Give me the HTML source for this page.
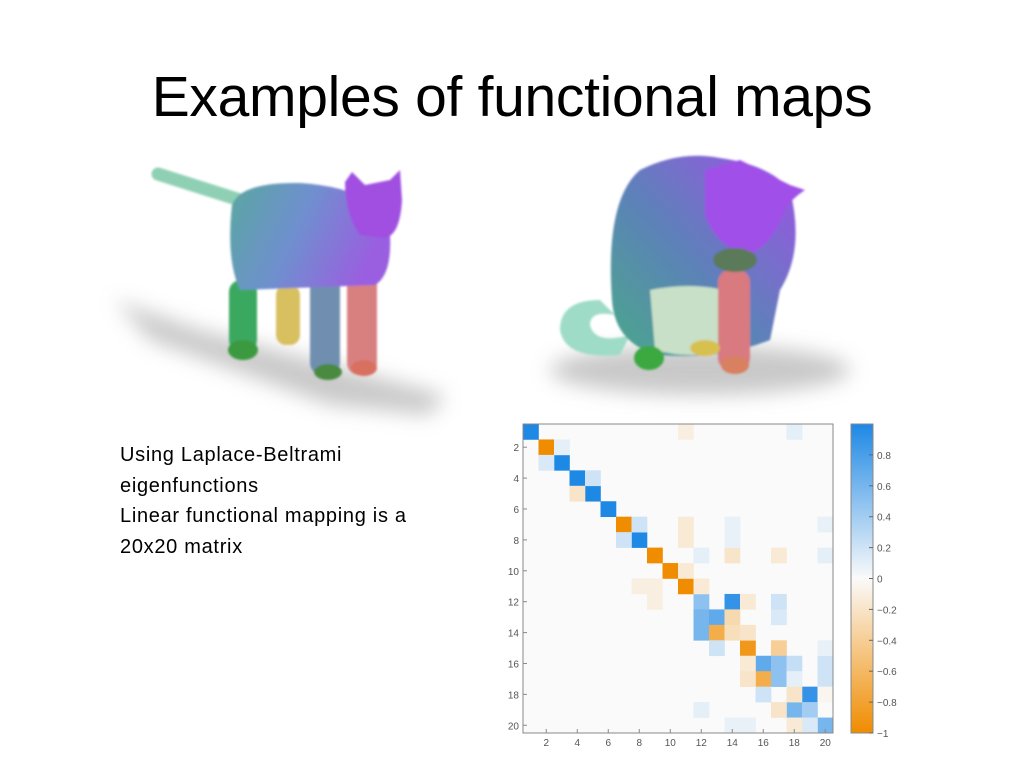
<!DOCTYPE html>
<html><head><meta charset="utf-8"><style>
html,body{margin:0;padding:0;background:#fff;width:1024px;height:768px;overflow:hidden;position:relative;font-family:"Liberation Sans",sans-serif}
.title{position:absolute;left:0;width:1024px;top:64px;text-align:center;font-size:57px;color:#000;letter-spacing:-0.3px}
.body{position:absolute;left:120px;top:440px;font-size:20px;letter-spacing:0.7px;line-height:30.5px;color:#000}
svg{position:absolute;left:0;top:0}
</style></head><body>
<div class="title">Examples of functional maps</div>
<div class="body">Using Laplace-Beltrami<br>eigenfunctions<br>Linear functional mapping is a<br>20x20 matrix</div>
<svg width="1024" height="768" xmlns="http://www.w3.org/2000/svg">
<defs>
<filter id="bl" x="-50%" y="-50%" width="200%" height="200%"><feGaussianBlur stdDeviation="10"/></filter>
<filter id="bs" x="-20%" y="-20%" width="140%" height="140%"><feGaussianBlur stdDeviation="1"/></filter>
<linearGradient id="lb" x1="0" y1="0" x2="1" y2="0.3"><stop offset="0" stop-color="#5aa7a0"/><stop offset="0.5" stop-color="#6f8fcf"/><stop offset="1" stop-color="#9a5fe0"/></linearGradient>
<linearGradient id="rb" x1="0" y1="1" x2="1" y2="0"><stop offset="0" stop-color="#4aa88a"/><stop offset="0.45" stop-color="#5c82b8"/><stop offset="1" stop-color="#a050e8"/></linearGradient>
<linearGradient id="cb" x1="0" y1="1" x2="0" y2="0"><stop offset="0" stop-color="#f08c00"/><stop offset="0.5" stop-color="#fafafa"/><stop offset="1" stop-color="#1e88e5"/></linearGradient>
</defs>
<polygon points="115,300 200,330 445,395 430,415 330,405 150,340" fill="#bbb" filter="url(#bl)" opacity="0.8"/>
<g filter="url(#bs)">
<line x1="158" y1="174" x2="240" y2="200" stroke="#8fd0b5" stroke-width="13" stroke-linecap="round"/>
<rect x="229" y="280" width="28" height="72" rx="12" fill="#3aa860"/>
<rect x="276" y="285" width="24" height="60" rx="10" fill="#d8c060"/>
<rect x="310" y="275" width="30" height="100" rx="12" fill="#6f8fb0"/>
<rect x="347" y="270" width="30" height="105" rx="12" fill="#d88080"/>
<ellipse cx="243" cy="350" rx="15" ry="10" fill="#3a9a40"/>
<ellipse cx="328" cy="372" rx="14" ry="8" fill="#4a8a40"/>
<ellipse cx="364" cy="368" rx="13" ry="8" fill="#d87060"/>
<path d="M232,205 Q240,182 300,183 Q345,186 365,200 L390,235 Q392,275 375,285 L240,290 Q226,260 232,205Z" fill="url(#lb)"/>
<path d="M345,182 L352,172 L365,185 L390,180 L400,170 L402,200 Q400,235 385,238 L360,235 Q345,215 345,182Z" fill="#a050e0"/>
</g>
<ellipse cx="700" cy="370" rx="150" ry="25" fill="#bbb" filter="url(#bl)" opacity="0.8"/>
<g filter="url(#bs)">
<path d="M600,300 Q560,300 560,330 Q565,360 620,355 L630,335 Q595,345 590,325 Q590,310 615,315Z" fill="#9fdcc8"/>
<path d="M612,300 Q605,200 640,170 Q680,150 720,158 Q770,165 790,190 Q805,250 780,290 L770,340 Q720,360 660,355 Q615,345 612,300Z" fill="url(#rb)"/>
<path d="M650,290 Q700,280 740,295 L735,350 Q690,360 655,350Z" fill="#c8e0c8"/>
<rect x="718" y="270" width="32" height="100" rx="12" fill="#d87a80"/>
<ellipse cx="649" cy="358" rx="15" ry="12" fill="#3aa840"/>
<ellipse cx="705" cy="348" rx="15" ry="8" fill="#d8c050"/>
<ellipse cx="735" cy="365" rx="14" ry="9" fill="#d88060"/>
<path d="M705,170 L740,160 L790,185 L805,190 Q790,200 785,210 Q770,250 745,255 Q715,245 705,215Z" fill="#a050e8"/>
<ellipse cx="735" cy="260" rx="22" ry="12" fill="#5a7a5a"/>
</g>
<rect x="523" y="424" width="310" height="309" fill="#fafafa" stroke="#888" stroke-width="1"/>
<g id="cells"></g>
<rect x="523" y="424" width="310" height="309" fill="none" stroke="#888" stroke-width="1"/>
<g font-size="10" fill="#555" text-anchor="end" id="ylab"></g>
<g font-size="10" fill="#555" text-anchor="middle" id="xlab"></g>
<rect x="851" y="424" width="22" height="309" fill="url(#cb)" stroke="#888" stroke-width="1"/>
<g font-size="10" fill="#555" id="cbl"></g>
</svg>
<script>
var ns="http://www.w3.org/2000/svg";
function el(t,a,p,txt){var e=document.createElementNS(ns,t);for(var k in a)e.setAttribute(k,a[k]);if(txt!=null)e.textContent=txt;document.getElementById(p).appendChild(e);}
var v=[[1,1,1],[2,2,-1],[3,3,1],[4,4,1],[5,5,1],[6,6,1],[7,7,-1],[8,8,1],[9,9,-1],[10,10,-1],[11,11,-1],
[12,12,.5],[12,14,.9],[13,12,.6],[13,13,.7],[14,12,.6],[14,13,-.7],[15,15,-.9],[15,17,-.4],[16,16,.7],[16,17,.5],
[17,16,-.7],[17,17,.5],[18,19,.9],[19,18,.6],[19,19,.4],[20,20,.6],
[2,3,.1],[3,2,.15],[4,5,.2],[5,4,-.2],[7,8,.2],[8,7,.2],[9,14,-.2],[9,17,-.15],[14,14,-.25],[13,14,-.3],[14,15,-.2],
[16,18,.25],[17,18,.1],[18,16,.2],[18,18,-.2],[19,17,-.2],[19,12,.1],[20,19,.15],[16,20,.2],[17,20,.2],[12,17,.2],
[13,17,.15],[11,12,-.15],[12,15,-.15],[15,13,.2],[16,15,-.15],[17,15,-.2],[1,11,-.1],[1,18,.1],[7,11,-.15],[8,11,-.15],
[10,11,-.15],[9,12,.1],[9,20,.1],[7,20,.08],[7,14,.08],[8,14,.08],[11,8,-.1],[11,9,-.1],[12,9,-.1],[15,20,.08],[18,20,-.05],[20,18,-.15],[20,14,.08],[20,15,.08]];
var cw=310/20,ch=309/20;
v.forEach(function(c){var r=c[0],k=c[1],x=c[2],a=Math.abs(x);var col=x>0?[30,136,229]:[240,140,0];
var f=function(i){return Math.round(250+(col[i]-250)*a);};
el('rect',{x:523+(k-1)*cw,y:424+(r-1)*ch,width:cw+0.3,height:ch+0.3,fill:'rgb('+f(0)+','+f(1)+','+f(2)+')'},'cells');});
for(var i=2;i<=20;i+=2){el('text',{x:519,y:424+(i-0.5)*ch+4},'ylab',i);el('text',{x:523+(i-0.5)*cw,y:746},'xlab',i);
el('line',{x1:523,x2:527,y1:424+(i-0.5)*ch,y2:424+(i-0.5)*ch,stroke:'#888'},'cells');
el('line',{x1:523+(i-0.5)*cw,x2:523+(i-0.5)*cw,y1:733,y2:729,stroke:'#888'},'cells');}
var L=['0.8','0.6','0.4','0.2','0','\u22120.2','\u22120.4','\u22120.6','\u22120.8','\u22121'];
for(var j=0;j<10;j++){var val=0.8-0.2*j;var y=733-(val+1)/2*309;if(j==9)y=733;
el('text',{x:877,y:y+4},'cbl',L[j]);el('line',{x1:869,x2:873,y1:y,y2:y,stroke:'#666'},'cbl');}
</script>
</body></html>
